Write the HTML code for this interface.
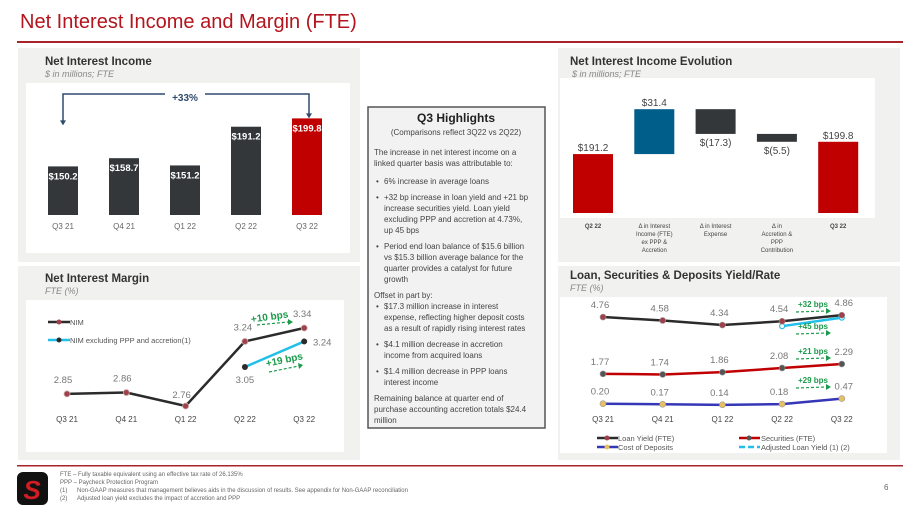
<!DOCTYPE html>
<html><head><meta charset="utf-8">
<style>
body{margin:0;background:#fff;width:911px;height:512px;overflow:hidden;font-family:"Liberation Sans",sans-serif}
svg{display:block}
text{font-family:"Liberation Sans",sans-serif}
</style></head>
<body>
<svg id="s" width="911" height="512" viewBox="0 0 911 512" xmlns="http://www.w3.org/2000/svg">
<text x="20" y="28" font-size="20" fill="#b3141d">Net Interest Income and Margin (FTE)</text>
<rect x="17" y="41" width="886" height="2" fill="#a8232a"/>

<rect x="18" y="48" width="342" height="214" fill="#f1f1ef"/>
<rect x="26" y="83" width="324" height="170" fill="#fff"/>
<text x="45" y="65" font-size="11.5" font-weight="bold" fill="#333">Net Interest Income</text>
<text x="45" y="77" font-size="9" font-style="italic" fill="#888">$ in millions; FTE</text>
<g id="nii"></g>

<rect x="18" y="266" width="342" height="194" fill="#f1f1ef"/>
<rect x="26" y="300" width="318" height="152" fill="#fff"/>
<text x="45" y="282" font-size="11.5" font-weight="bold" fill="#333">Net Interest Margin</text>
<text x="45" y="294" font-size="9" font-style="italic" fill="#888">FTE (%)</text>
<g id="nim"></g>

<rect x="558" y="48" width="342" height="214" fill="#f1f1ef"/>
<rect x="560" y="78" width="315" height="140" fill="#fff"/>
<text x="570" y="65" font-size="11.5" font-weight="bold" fill="#333">Net Interest Income Evolution</text>
<text x="572" y="77" font-size="9" font-style="italic" fill="#888">$ in millions; FTE</text>
<g id="evo"></g>

<rect x="558" y="266" width="342" height="194" fill="#f1f1ef"/>
<rect x="560" y="297" width="327" height="156" fill="#fff"/>
<text x="570" y="279" font-size="11.5" font-weight="bold" fill="#333">Loan, Securities &amp; Deposits Yield/Rate</text>
<text x="570" y="291" font-size="9" font-style="italic" fill="#888">FTE (%)</text>
<g id="yld"></g>

<rect x="368" y="107" width="177" height="321" fill="#f2f2f2" stroke="#555" stroke-width="1.5"/>
<g font-size="8" fill="#444">
<text x="456" y="122" font-size="12" font-weight="bold" fill="#222" text-anchor="middle">Q3 Highlights</text>
<text x="456" y="135" text-anchor="middle">(Comparisons reflect 3Q22 vs 2Q22)</text>
<text x="374" y="155">The increase in net interest income on a</text>
<text x="374" y="166">linked quarter basis was attributable to:</text>
<text x="376" y="184">•</text><text x="384" y="184">6% increase in average loans</text>
<text x="376" y="200">•</text><text x="384" y="200">+32 bp increase in loan yield and +21 bp</text>
<text x="384" y="211">increase securities yield. Loan yield</text>
<text x="384" y="222">excluding PPP and accretion at 4.73%,</text>
<text x="384" y="233">up 45 bps</text>
<text x="376" y="249">•</text><text x="384" y="249">Period end loan balance of $15.6 billion</text>
<text x="384" y="260">vs $15.3 billion average balance for the</text>
<text x="384" y="271">quarter provides a catalyst for future</text>
<text x="384" y="282">growth</text>
<text x="374" y="298">Offset in part by:</text>
<text x="376" y="309">•</text><text x="384" y="309">$17.3 million increase in interest</text>
<text x="384" y="320">expense, reflecting higher deposit costs</text>
<text x="384" y="331">as a result of rapidly rising interest rates</text>
<text x="376" y="347">•</text><text x="384" y="347">$4.1 million decrease in accretion</text>
<text x="384" y="358">income from acquired loans</text>
<text x="376" y="374">•</text><text x="384" y="374">$1.4 million decrease in PPP loans</text>
<text x="384" y="385">interest income</text>
<text x="374" y="401">Remaining balance at quarter end of</text>
<text x="374" y="412">purchase accounting accretion totals $24.4</text>
<text x="374" y="423">million</text>
</g>

<rect x="17" y="465" width="886" height="1.5" fill="#a8232a"/>
<g>
<rect x="17" y="472" width="31" height="33" rx="6" fill="#111"/>
<text x="32" y="499" font-size="26" font-weight="bold" font-style="italic" fill="#d01d24" text-anchor="middle">S</text>
</g>
<g font-size="6" fill="#666">
<text x="60" y="476">FTE – Fully taxable equivalent using an effective tax rate of 26.135%</text>
<text x="60" y="484">PPP – Paycheck Protection Program</text>
<text x="60" y="492">(1)</text><text x="77" y="492">Non-GAAP measures that management believes aids in the discussion of results. See appendix for Non-GAAP reconciliation</text>
<text x="60" y="500">(2)</text><text x="77" y="500">Adjusted loan yield excludes the impact of accretion and PPP</text>
</g>
<text x="884" y="490" font-size="8" fill="#666">6</text>
</svg>
<script>
// ---- data ----
const niiCats = ["Q3 21","Q4 21","Q1 22","Q2 22","Q3 22"];
const niiVals = [150.2,158.7,151.2,191.2,199.8];
const niiLabels = ["$150.2","$158.7","$151.2","$191.2","$199.8"];
const nimCats = ["Q3 21","Q4 21","Q1 22","Q2 22","Q3 22"];
const nimVals = [2.85,2.86,2.76,3.24,3.34];
const nimExVals = [null,null,null,3.05,3.24];
const evoCats = [["Q2 22"],["Δ in Interest","Income (FTE)","ex PPP &","Accretion"],["Δ in Interest","Expense"],["Δ in","Accretion &","PPP","Contribution"],["Q3 22"]];
const evoDeltas = [191.2,31.4,-17.3,-5.5,199.8];
const evoLabels = ["$191.2","$31.4","$(17.3)","$(5.5)","$199.8"];
const yldCats = ["Q3 21","Q4 21","Q1 22","Q2 22","Q3 22"];
const loanYield = [4.76,4.58,4.34,4.54,4.86];
const secYield = [1.77,1.74,1.86,2.08,2.29];
const depCost = [0.20,0.17,0.14,0.18,0.47];
const adjLoanYield = [null,null,null,4.28,4.73];

const NS="http://www.w3.org/2000/svg";
function mk(parent,tag,attrs,txt){const e=document.createElementNS(NS,tag);for(const k in attrs)e.setAttribute(k,attrs[k]);if(txt!==undefined)e.textContent=txt;parent.appendChild(e);return e;}

// ---- NII bars ----
(function(){
 const g=document.getElementById('nii');
 const x=i=>63+i*61, y=v=>215-(v-100)*0.968;
 niiVals.forEach((v,i)=>{
  const r=mk(g,'rect',{x:x(i)-15,y:y(v),width:30,height:215-y(v),fill:i===4?'#c00000':'#33373a'});
  
  
  const t=mk(g,'text',{x:x(i),y:y(v)+13,'font-size':9.5,'font-weight':'bold',fill:'#fff','text-anchor':'middle'},niiLabels[i]);
  
  
  const c=mk(g,'text',{x:x(i),y:229,'font-size':8,fill:'#666','text-anchor':'middle'},niiCats[i]);
  
  
 });
 const a=mk(g,'path',{d:`M${x(0)} ${y(niiVals[0])-45} V94 H165 M205 94 H${x(4)+2} V${y(niiVals[4])-4}`,fill:'none',stroke:'#2f4b6e','stroke-width':1.5});
 
 
 mk(g,'path',{d:`M${x(0)-3} ${y(niiVals[0])-46} l3 5 l3 -5z M${x(4)-1} ${y(niiVals[4])-5} l3 5 l3 -5z`,fill:'#2f4b6e'});
 const p=mk(g,'text',{x:185,y:101,'font-size':10,'font-weight':'bold',fill:'#2f4b6e','text-anchor':'middle'},'+33%');
 
 
})();

// ---- NIM lines ----
(function(){
 const g=document.getElementById('nim');
 const x=i=>67+i*59.3, y=v=>406-(v-2.76)*134.5;
 const pts=nimVals.map((v,i)=>x(i)+','+y(v)).join(' ');
 const l=mk(g,'polyline',{points:pts,fill:'none',stroke:'#2b2b2b','stroke-width':2.5});
 
 
 const ex=nimExVals.map((v,i)=>v==null?null:[x(i),y(v)]).filter(Boolean);
 const l2=mk(g,'polyline',{points:ex.map(p=>p.join(',')).join(' '),fill:'none',stroke:'#22c0e8','stroke-width':2.5});
 
 
 nimVals.forEach((v,i)=>{
  const c=mk(g,'circle',{cx:x(i),cy:y(v),r:3,fill:'#a0404a',stroke:'#caa','stroke-width':0.8});
  
  
  const lx=i===4?x(i)-8:x(i)-6, ly=i===2?y(v)-8:y(v)-11;
  const t=mk(g,'text',{x:i>=3?x(i)-2:x(i)-4,y:ly,'font-size':9.5,fill:'#777','text-anchor':'middle'},v.toFixed(2));
  
  
  const cl=mk(g,'text',{x:x(i),y:422,'font-size':8,fill:'#444','text-anchor':'middle'},nimCats[i]);
  
  
 });
 nimExVals.forEach((v,i)=>{ if(v==null)return;
  const c=mk(g,'circle',{cx:x(i),cy:y(v),r:3,fill:'#2b2b2b'});
  
  
  const t=mk(g,'text',{x:i===4?x(i)+18:x(i),y:i===4?y(v)+4:y(v)+16,'font-size':9.5,fill:'#777','text-anchor':'middle'},v.toFixed(2));
  
  
 });
 // legend
 const lg=mk(g,'g',{});
 
 
 mk(lg,'line',{x1:48,y1:322,x2:70,y2:322,stroke:'#2b2b2b','stroke-width':2.5});
 mk(lg,'circle',{cx:59,cy:322,r:2.5,fill:'#a0404a'});
 mk(lg,'text',{x:70,y:325,'font-size':7.5,fill:'#555'},'NIM');
 mk(lg,'line',{x1:48,y1:340,x2:70,y2:340,stroke:'#22c0e8','stroke-width':2.5});
 mk(lg,'circle',{cx:59,cy:340,r:2.5,fill:'#2b2b2b'});
 mk(lg,'text',{x:70,y:343,'font-size':7.5,fill:'#555'},'NIM excluding PPP and accretion(1)');
 // annotations
 const an=mk(g,'g',{fill:'#1a9a4a'});
 
 
 mk(an,'text',{x:270,y:320,'font-size':10,'font-weight':'bold','text-anchor':'middle',transform:'rotate(-8 270 320)'},'+10 bps');
 mk(an,'line',{x1:257,y1:325,x2:288,y2:322,stroke:'#1a9a4a','stroke-width':1.2,'stroke-dasharray':'3 2'});
 mk(an,'path',{d:'M288 319 l5 3 l-5 3z'});
 mk(an,'text',{x:285,y:363,'font-size':10,'font-weight':'bold','text-anchor':'middle',transform:'rotate(-12 285 363)'},'+19 bps');
 mk(an,'line',{x1:269,y1:372,x2:299,y2:366,stroke:'#1a9a4a','stroke-width':1.2,'stroke-dasharray':'3 2'});
 mk(an,'path',{d:'M298 363 l5 2 l-4 4z'});
})();

// ---- Evolution waterfall ----
(function(){
 const g=document.getElementById('evo');
 const x=i=>593+i*61.3, y=v=>213-(v-150)*1.43;
 let run=0;
 evoDeltas.forEach((d,i)=>{
  let top,bot,fill;
  if(i===0||i===4){top=d;bot=150;run=d;fill='#c00000';}
  else{const nr=run+d;top=Math.max(run,nr);bot=Math.min(run,nr);run=nr;fill=d>0?'#005f8a':'#33373a';}
  const r=mk(g,'rect',{x:x(i)-20,y:y(top),width:40,height:y(bot)-y(top),fill:fill});
  
  
  const neg=d<0;
  const t=mk(g,'text',{x:x(i),y:neg?y(bot)+12:y(top)-3,'font-size':10,fill:'#444','text-anchor':'middle'},evoLabels[i]);
  
  
  evoCats[i].forEach((ln,k)=>{
   const c=mk(g,'text',{x:x(i),y:228+k*8,'font-size':6,'font-weight':(i===0||i===4)?'bold':'normal',fill:'#444','text-anchor':'middle'},ln);
   
   
  });
 });
})();

// ---- Yield lines ----
(function(){
 const g=document.getElementById('yld');
 const x=i=>603+i*59.7, y=v=>407.5-v*19;
 const series=[[loanYield,'#2b2b2b','#a0404a','loan-yield'],[secYield,'#c00000','#555','securities-yield'],[depCost,'#3636b8','#e8c060','deposit-cost']];
 series.forEach(([arr,col,mc,nm])=>{
  const l=mk(g,'polyline',{points:arr.map((v,i)=>x(i)+','+y(v)).join(' '),fill:'none',stroke:col,'stroke-width':2.5});
  
  
 });
 const adj=adjLoanYield.map((v,i)=>v==null?null:x(i)+','+y(v)).filter(Boolean).join(' ');
 const la=mk(g,'polyline',{points:adj,fill:'none',stroke:'#22c0e8','stroke-width':2.5});
 
 
 adjLoanYield.forEach((v,i)=>{if(v==null)return;
  const c=mk(g,'circle',{cx:x(i),cy:y(v),r:2.5,fill:'#fff',stroke:'#22c0e8','stroke-width':1.2});
  
  
 });
 series.forEach(([arr,col,mc,nm])=>{
  arr.forEach((v,i)=>{
   const c=mk(g,'circle',{cx:x(i),cy:y(v),r:3,fill:mc,stroke:'#999','stroke-width':0.6});
   
   
   const t=mk(g,'text',{x:i===4?x(i)+2:x(i)-3,y:y(v)-9,'font-size':9.5,fill:'#777','text-anchor':'middle'},v.toFixed(2));
   
   
  });
 });
 yldCats.forEach((c,i)=>{
  const t=mk(g,'text',{x:x(i),y:422,'font-size':8,fill:'#444','text-anchor':'middle'},c);
  
  
 });
 const an=mk(g,'g',{fill:'#1a9a4a'});
 
 
 [['+32 bps',307],['+45 bps',329],['+21 bps',354],['+29 bps',383]].forEach(([s,yy])=>{
  mk(an,'text',{x:813,y:yy,'font-size':8,'font-weight':'bold','text-anchor':'middle'},s);
  mk(an,'line',{x1:796,y1:yy+5,x2:826,y2:yy+4,stroke:'#1a9a4a','stroke-width':1.2,'stroke-dasharray':'3 2'});
  mk(an,'path',{d:`M826 ${yy+1} l5 3 l-5 3z`});
 });
 const lg=mk(g,'g',{'font-size':7.5,fill:'#555'});
 
 
 mk(lg,'line',{x1:597,y1:438,x2:618,y2:438,stroke:'#2b2b2b','stroke-width':2.5});
 mk(lg,'circle',{cx:607,cy:438,r:2.5,fill:'#a0404a'});
 mk(lg,'text',{x:618,y:441},'Loan Yield (FTE)');
 mk(lg,'line',{x1:597,y1:447,x2:618,y2:447,stroke:'#3636b8','stroke-width':2.5});
 mk(lg,'circle',{cx:607,cy:447,r:2.5,fill:'#e8c060'});
 mk(lg,'text',{x:618,y:450},'Cost of Deposits');
 mk(lg,'line',{x1:739,y1:438,x2:760,y2:438,stroke:'#c00000','stroke-width':2.5});
 mk(lg,'circle',{cx:749,cy:438,r:2.5,fill:'#555'});
 mk(lg,'text',{x:761,y:441},'Securities (FTE)');
 mk(lg,'line',{x1:739,y1:447,x2:760,y2:447,stroke:'#22c0e8','stroke-width':2.5,'stroke-dasharray':'6 3'});
 mk(lg,'text',{x:761,y:450},'Adjusted Loan Yield (1) (2)');
})();
</script>
</body></html>
